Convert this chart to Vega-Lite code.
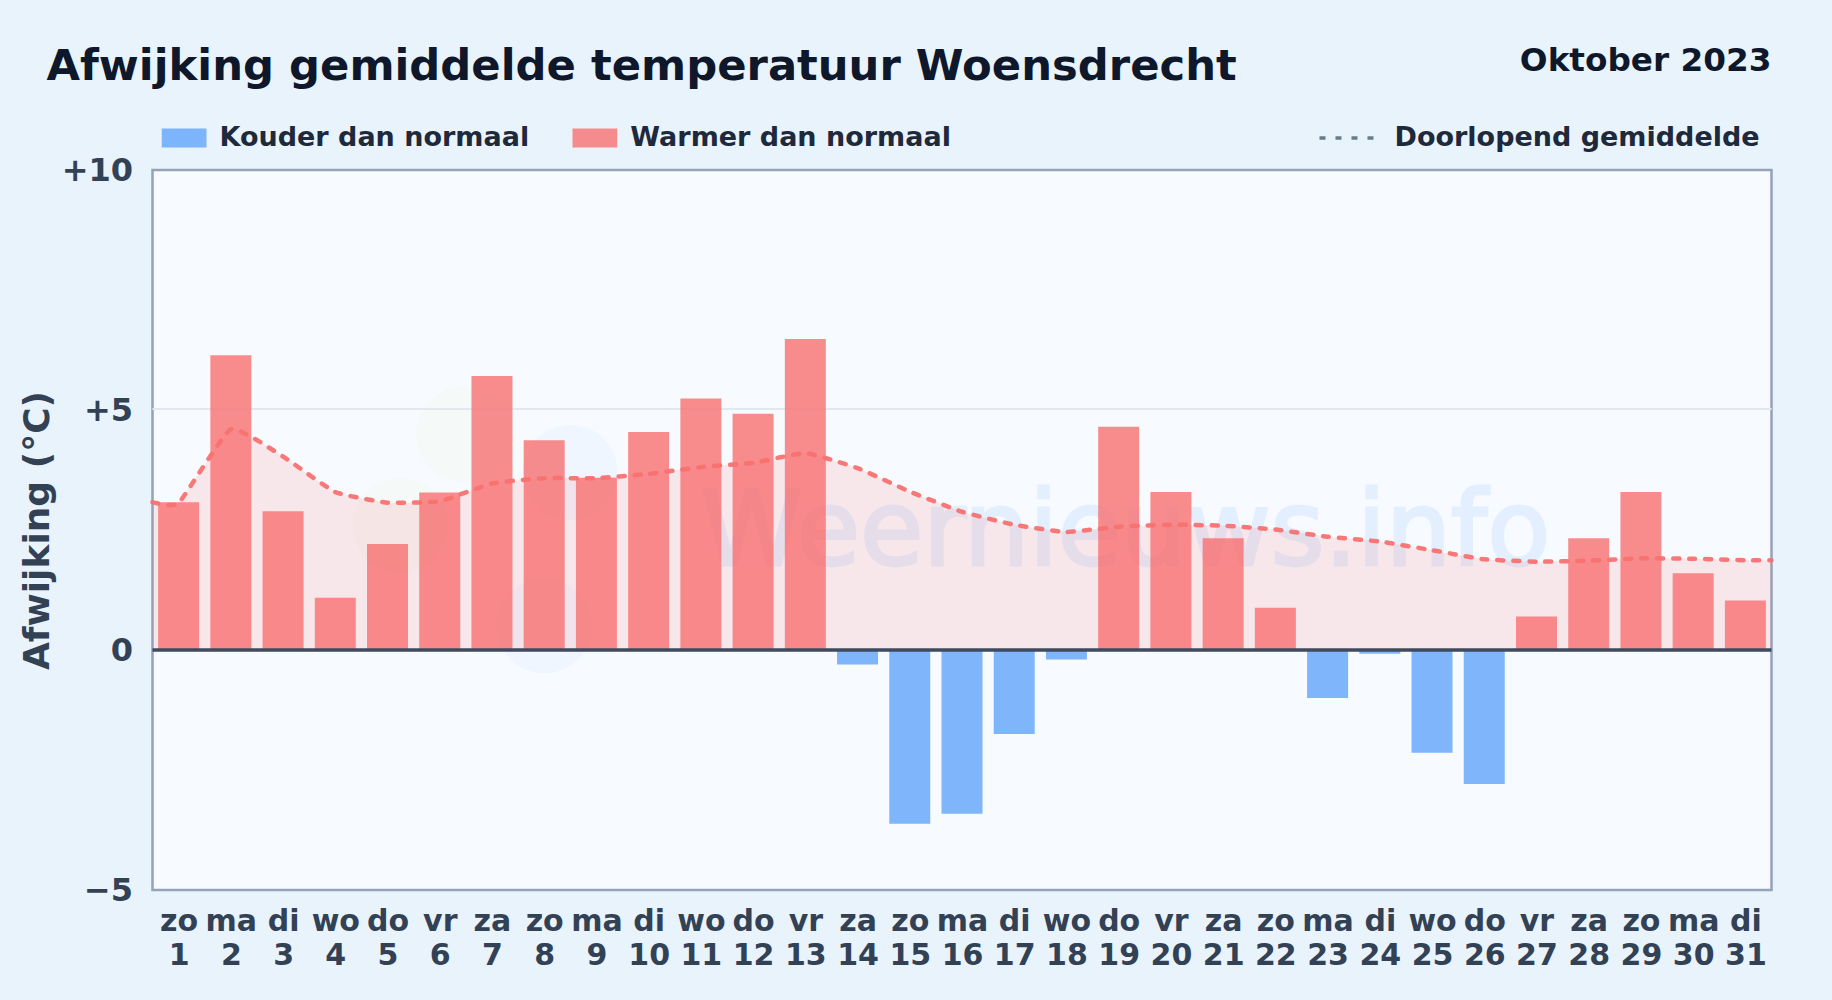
{"$schema":"https://vega.github.io/schema/vega-lite/v6.json","width":1619,"height":720,"autosize":"none","padding":{"left":152.5,"top":170,"right":60.5,"bottom":110},"background":"#e9f3fc",
"title":{"text":"Afwijking gemiddelde temperatuur Woensdrecht","anchor":"start","frame":"group","dx":-106,"dy":54,"offset":9,"font":"DejaVu Sans","fontWeight":"bold","fontSize":43.3,"color":"#0f172a"},
"config":{"view":{"fill":"#f7fbff","stroke":"#94a3b8","strokeWidth":2.5},"font":"DejaVu Sans"},
"datasets":{
"staven":[{"dag":1,"afw":3.08,"soort":"Warmer dan normaal"},{"dag":2,"afw":6.14,"soort":"Warmer dan normaal"},{"dag":3,"afw":2.89,"soort":"Warmer dan normaal"},{"dag":4,"afw":1.09,"soort":"Warmer dan normaal"},{"dag":5,"afw":2.21,"soort":"Warmer dan normaal"},{"dag":6,"afw":3.28,"soort":"Warmer dan normaal"},{"dag":7,"afw":5.71,"soort":"Warmer dan normaal"},{"dag":8,"afw":4.37,"soort":"Warmer dan normaal"},{"dag":9,"afw":3.59,"soort":"Warmer dan normaal"},{"dag":10,"afw":4.54,"soort":"Warmer dan normaal"},{"dag":11,"afw":5.24,"soort":"Warmer dan normaal"},{"dag":12,"afw":4.92,"soort":"Warmer dan normaal"},{"dag":13,"afw":6.48,"soort":"Warmer dan normaal"},{"dag":14,"afw":-0.3,"soort":"Kouder dan normaal"},{"dag":15,"afw":-3.62,"soort":"Kouder dan normaal"},{"dag":16,"afw":-3.41,"soort":"Kouder dan normaal"},{"dag":17,"afw":-1.75,"soort":"Kouder dan normaal"},{"dag":18,"afw":-0.2,"soort":"Kouder dan normaal"},{"dag":19,"afw":4.65,"soort":"Warmer dan normaal"},{"dag":20,"afw":3.29,"soort":"Warmer dan normaal"},{"dag":21,"afw":2.33,"soort":"Warmer dan normaal"},{"dag":22,"afw":0.88,"soort":"Warmer dan normaal"},{"dag":23,"afw":-1.0,"soort":"Kouder dan normaal"},{"dag":24,"afw":-0.08,"soort":"Kouder dan normaal"},{"dag":25,"afw":-2.14,"soort":"Kouder dan normaal"},{"dag":26,"afw":-2.79,"soort":"Kouder dan normaal"},{"dag":27,"afw":0.7,"soort":"Warmer dan normaal"},{"dag":28,"afw":2.33,"soort":"Warmer dan normaal"},{"dag":29,"afw":3.29,"soort":"Warmer dan normaal"},{"dag":30,"afw":1.6,"soort":"Warmer dan normaal"},{"dag":31,"afw":1.03,"soort":"Warmer dan normaal"}],
"gemiddelde":[{"dag":0.5,"gem":3.08,"reeks":"Doorlopend gemiddelde"},{"dag":1,"gem":3.06,"reeks":"Doorlopend gemiddelde"},{"dag":2,"gem":4.6,"reeks":"Doorlopend gemiddelde"},{"dag":3,"gem":4.03,"reeks":"Doorlopend gemiddelde"},{"dag":4,"gem":3.29,"reeks":"Doorlopend gemiddelde"},{"dag":5,"gem":3.07,"reeks":"Doorlopend gemiddelde"},{"dag":6,"gem":3.1,"reeks":"Doorlopend gemiddelde"},{"dag":7,"gem":3.47,"reeks":"Doorlopend gemiddelde"},{"dag":8,"gem":3.58,"reeks":"Doorlopend gemiddelde"},{"dag":9,"gem":3.58,"reeks":"Doorlopend gemiddelde"},{"dag":10,"gem":3.67,"reeks":"Doorlopend gemiddelde"},{"dag":11,"gem":3.81,"reeks":"Doorlopend gemiddelde"},{"dag":12,"gem":3.9,"reeks":"Doorlopend gemiddelde"},{"dag":13,"gem":4.1,"reeks":"Doorlopend gemiddelde"},{"dag":14,"gem":3.79,"reeks":"Doorlopend gemiddelde"},{"dag":15,"gem":3.3,"reeks":"Doorlopend gemiddelde"},{"dag":16,"gem":2.88,"reeks":"Doorlopend gemiddelde"},{"dag":17,"gem":2.61,"reeks":"Doorlopend gemiddelde"},{"dag":18,"gem":2.46,"reeks":"Doorlopend gemiddelde"},{"dag":19,"gem":2.57,"reeks":"Doorlopend gemiddelde"},{"dag":20,"gem":2.61,"reeks":"Doorlopend gemiddelde"},{"dag":21,"gem":2.59,"reeks":"Doorlopend gemiddelde"},{"dag":22,"gem":2.51,"reeks":"Doorlopend gemiddelde"},{"dag":23,"gem":2.36,"reeks":"Doorlopend gemiddelde"},{"dag":24,"gem":2.26,"reeks":"Doorlopend gemiddelde"},{"dag":25,"gem":2.08,"reeks":"Doorlopend gemiddelde"},{"dag":26,"gem":1.89,"reeks":"Doorlopend gemiddelde"},{"dag":27,"gem":1.84,"reeks":"Doorlopend gemiddelde"},{"dag":28,"gem":1.86,"reeks":"Doorlopend gemiddelde"},{"dag":29,"gem":1.91,"reeks":"Doorlopend gemiddelde"},{"dag":30,"gem":1.9,"reeks":"Doorlopend gemiddelde"},{"dag":31,"gem":1.87,"reeks":"Doorlopend gemiddelde"},{"dag":31.5,"gem":1.87,"reeks":"Doorlopend gemiddelde"}]
},
"layer":[
{"data":{"values":[{"x":6.45,"y":4.5},{"x":5.24,"y":2.6}]},"mark":{"type":"point","filled":true,"fill":"#e3e89a","opacity":0.08,"size":9000,"shape":"circle"},"encoding":{"x":{"field":"x","type":"quantitative","scale":{"domain":[0.5,31.5],"nice":false,"padding":0},"axis":{"values":[1,2,3,4,5,6,7,8,9,10,11,12,13,14,15,16,17,18,19,20,21,22,23,24,25,26,27,28,29,30,31],"title":null,"grid":false,"ticks":false,"domain":false,"labelExpr":"[['zo','ma','di','wo','do','vr','za'][(datum.value-1)%7], ''+datum.value]","labelOverlap":false,"labelBound":false,"labelFlush":false,"labelFont":"DejaVu Sans","labelFontWeight":"bold","labelFontSize":30,"labelColor":"#334155","labelPadding":16,"labelLineHeight":34,"labelBaseline":"top"}},"y":{"field":"y","type":"quantitative","scale":{"domain":[-5,10],"nice":false,"zero":false},"axis":{"values":[-5,0,5,10],"title":"Afwijking (°C)","titleFont":"DejaVu Sans","titleFontWeight":"bold","titleFontSize":36,"titleColor":"#334155","titlePadding":5,"grid":false,"ticks":false,"domain":false,"labelExpr":"datum.value>0?'+'+datum.value:(datum.value<0?'−'+abs(datum.value):'0')","labelFont":"DejaVu Sans","labelFontWeight":"bold","labelFontSize":32,"labelColor":"#334155","labelPadding":20}}}},
{"data":{"values":[{"x":8.5,"y":3.7},{"x":8.0,"y":0.5}]},"mark":{"type":"point","filled":true,"fill":"#93c5fd","opacity":0.08,"size":9000,"shape":"circle"},"encoding":{"x":{"field":"x","type":"quantitative"},"y":{"field":"y","type":"quantitative"}}},
{"data":{"values":[{"x":11,"y":1.77,"t":"Weernieuws.info"}]},"mark":{"type":"text","font":"DejaVu Sans","fontSize":103,"align":"left","baseline":"alphabetic","fill":"#bfdbfe","stroke":"#bfdbfe","strokeWidth":3,"opacity":0.35},"encoding":{"x":{"field":"x","type":"quantitative"},"y":{"field":"y","type":"quantitative"},"text":{"field":"t"}}},
{"data":{"values":[{"v":5.02}]},"mark":{"type":"rule","stroke":"#e2e8f0","strokeWidth":2},"encoding":{"y":{"field":"v","type":"quantitative"}}},
{"data":{"name":"gemiddelde"},"mark":{"type":"area","interpolate":"cardinal","tension":0.6,"fill":"#f87171","fillOpacity":0.14},"encoding":{"x":{"field":"dag","type":"quantitative"},"y":{"field":"gem","type":"quantitative"},"y2":{"datum":0}}},
{"data":{"name":"staven"},"mark":{"type":"bar","width":41,"opacity":0.8},"encoding":{"x":{"field":"dag","type":"quantitative"},"y":{"field":"afw","type":"quantitative"},"y2":{"datum":0},"color":{"field":"soort","type":"nominal","scale":{"domain":["Kouder dan normaal","Warmer dan normaal"],"range":["#60a5fa","#f87171"]},"legend":{"title":null,"orient":"none","legendX":9,"legendY":-47,"direction":"horizontal","columns":2,"columnPadding":42.8,"symbolType":"M-1,-0.42H1V0.42H-1Z","symbolSize":2025,"symbolOpacity":0.8,"symbolStrokeWidth":0,"labelFont":"DejaVu Sans","labelFontWeight":"bold","labelFontSize":27,"labelColor":"#1e293b","labelOffset":13,"labelLimit":400,"clipHeight":30}}}},
{"data":{"name":"gemiddelde"},"mark":{"type":"line","interpolate":"cardinal","tension":0.6,"stroke":"#f87171","strokeWidth":4.5,"strokeCap":"round","opacity":0.95},"encoding":{"x":{"field":"dag","type":"quantitative"},"y":{"field":"gem","type":"quantitative"},"strokeDash":{"field":"reeks","type":"nominal","scale":{"domain":["Doorlopend gemiddelde"],"range":[[6,10]]},"legend":{"title":null,"orient":"none","legendX":1165,"legendY":-47,"symbolType":"stroke","symbolSize":3025,"symbolStrokeColor":"#64748b","symbolStrokeWidth":3.5,"encode":{"symbols":{"update":{"strokeDash":{"value":[4.7,12.3]}}}},"labelFont":"DejaVu Sans","labelFontWeight":"bold","labelFontSize":27,"labelColor":"#1e293b","labelOffset":18,"labelLimit":500,"clipHeight":30}}}},
{"data":{"values":[{"v":0}]},"mark":{"type":"rule","stroke":"#3f4a5e","strokeWidth":3.5},"encoding":{"y":{"field":"v","type":"quantitative"}}},
{"data":{"values":[{"x":31.5,"y":12.07,"t":"Oktober 2023"}]},"mark":{"type":"text","font":"DejaVu Sans","fontWeight":"bold","fontSize":32.7,"align":"right","baseline":"alphabetic","fill":"#0f172a"},"encoding":{"x":{"field":"x","type":"quantitative"},"y":{"field":"y","type":"quantitative"},"text":{"field":"t"}}}
]}
